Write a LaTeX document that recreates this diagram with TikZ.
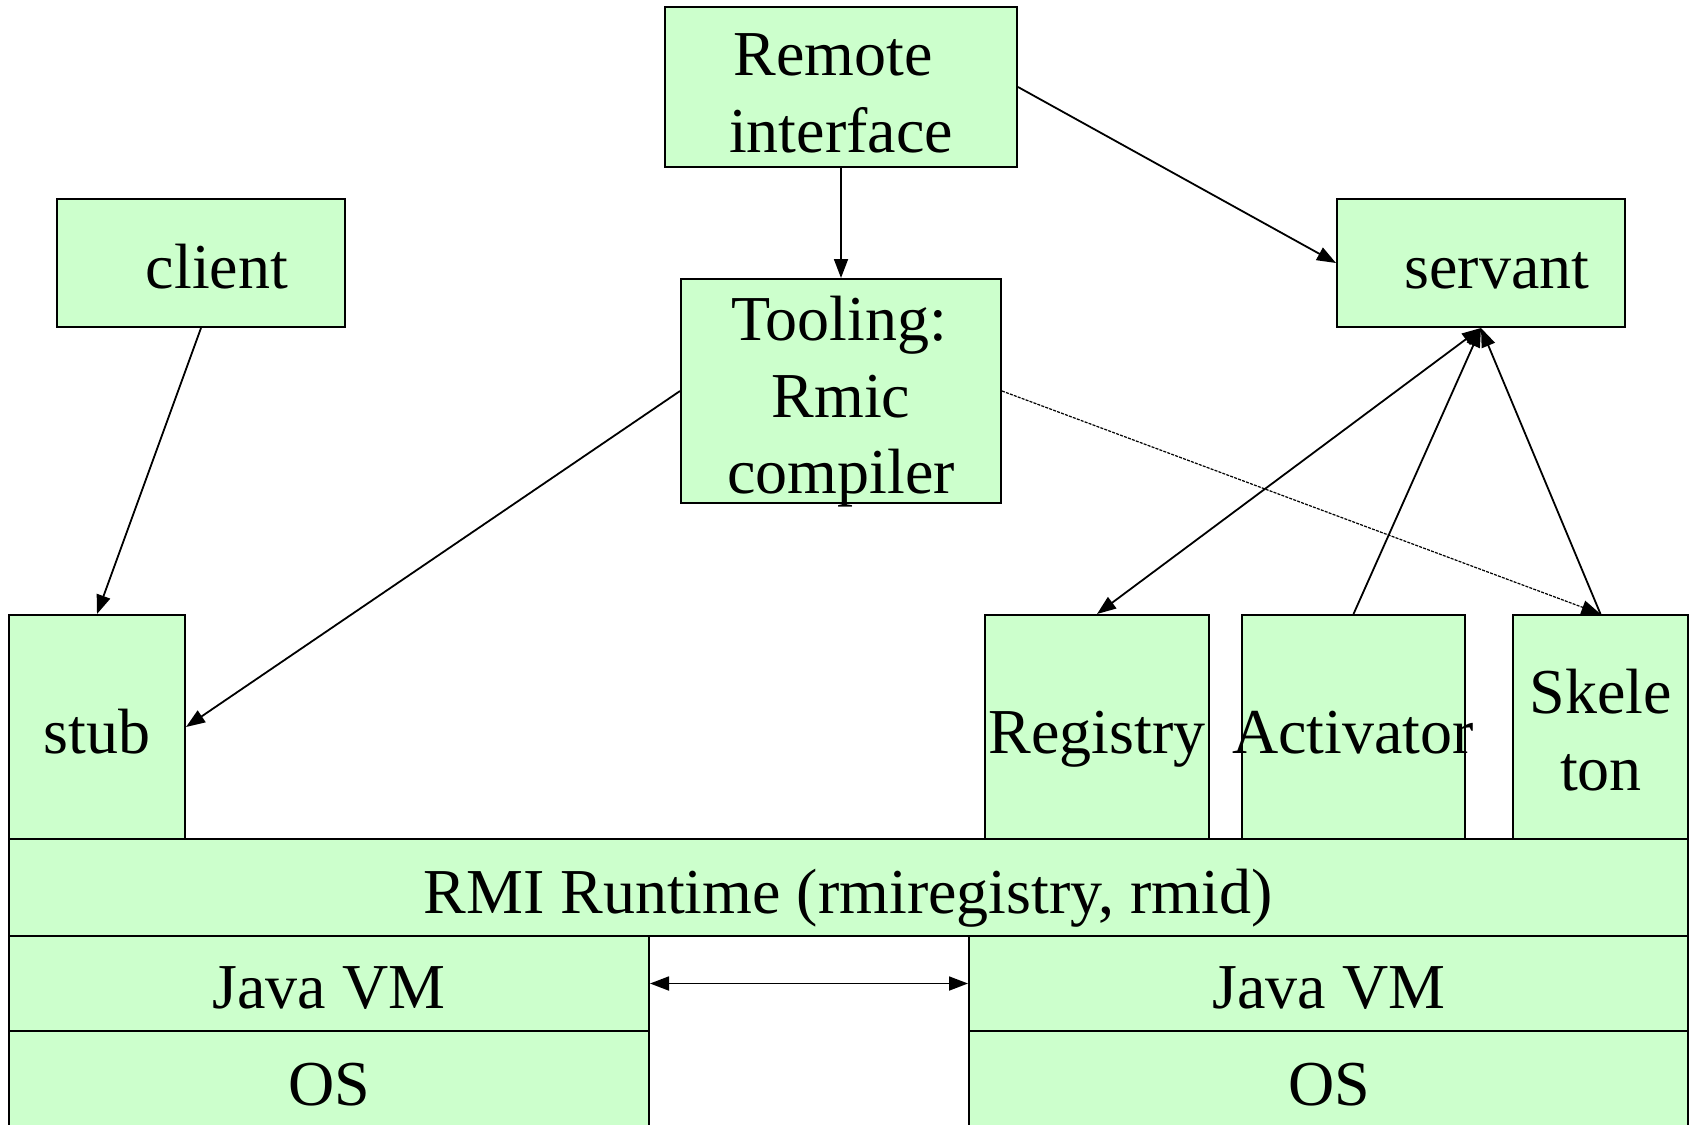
\documentclass[tikz,border=0pt]{standalone}
\usepackage{fontspec}
\setmainfont{Liberation Serif}
\usetikzlibrary{arrows.meta,fit}
\definecolor{boxgreen}{RGB}{204,255,204}
\begin{document}
\begin{tikzpicture}[x=0.5pt,y=-0.5pt,
  box/.style={draw=black, fill=boxgreen, line width=1pt, inner sep=0pt, fit={#1}},
  lbl/.style={font=\fontsize{32pt}{38pt}\selectfont, inner sep=0pt, anchor=base},
  arr/.style={line width=0.9pt, -{Triangle[length=9.5pt,width=7pt]}},
  darr/.style={line width=0.9pt, {Triangle[length=9.5pt,width=7pt]}-{Triangle[length=9.5pt,width=7pt]}},
  dotarr/.style={line width=0.6pt, dash pattern=on 1.5pt off 0.6pt, -{Triangle[length=9.5pt,width=7pt]}}]
\useasboundingbox (0,0) rectangle (1691,1124);
\clip (0,0) rectangle (1691,1124);
% boxes
\node[box={(665,7)(1017,167)}] (remote) {};
\node[box={(681,279)(1001,503)}] (tooling) {};
\node[box={(57,199)(345,327)}] (client) {};
\node[box={(1337,199)(1625,327)}] (servant) {};
\node[box={(9,615)(185,839)}] (stub) {};
\node[box={(985,615)(1209,839)}] (registry) {};
\node[box={(1242,615)(1465,839)}] (activator) {};
\node[box={(1513,615)(1688,839)}] (skeleton) {};
\node[box={(9,839)(1688,936)}] (rmi) {};
\node[box={(9,936)(649,1031)}] (jvmL) {};
\node[box={(9,1031)(649,1150)}] (osL) {};
\node[box={(969,936)(1688,1031)}] (jvmR) {};
\node[box={(969,1031)(1688,1150)}] (osR) {};
% texts
\node[lbl] (tRemote) at (833,75) {Remote};
\node[lbl] (tInterface) at (841,152) {interface};
\node[lbl] (tTooling) at (839,340) {Tooling:};
\node[lbl] (tRmic) at (841,417) {Rmic};
\node[lbl] (tCompiler) at (841,493) {compiler};
\node[lbl] (tClient) at (217,288) {client};
\node[lbl] (tServant) at (1497,288) {servant};
\node[lbl] (tStub) at (97,753) {stub};
\node[lbl] (tRegistry) at (1097,753) {Registry};
\node[lbl] (tActivator) at (1353,753) {Activator};
\node[lbl] (tSkele) at (1601,713) {Skele};
\node[lbl] (tTon) at (1601,790) {ton};
\node[lbl] (tRMI) at (848,913) {RMI Runtime (rmiregistry, rmid)};
\node[lbl] (tJvmL) at (329,1008) {Java VM};
\node[lbl] (tJvmR) at (1329,1008) {Java VM};
\node[lbl] (tOsL) at (329,1105) {OS};
\node[lbl] (tOsR) at (1329,1105) {OS};
% connectors
\draw[arr] (remote.south) -- (tooling.north);
\draw[arr] (remote.east) -- (servant.west);
\draw[arr] (client.south) -- (stub.north);
\draw[arr] (tooling.west) -- (stub.east);
\draw[dotarr] (tooling.east) -- (skeleton.north);
\draw[darr] (servant.south) -- (registry.north);
\draw[arr] (activator.north) -- (servant.south);
\draw[arr] (skeleton.north) -- (servant.south);
\draw[darr] (jvmL.east) -- (jvmR.west);
\end{tikzpicture}
\end{document}
